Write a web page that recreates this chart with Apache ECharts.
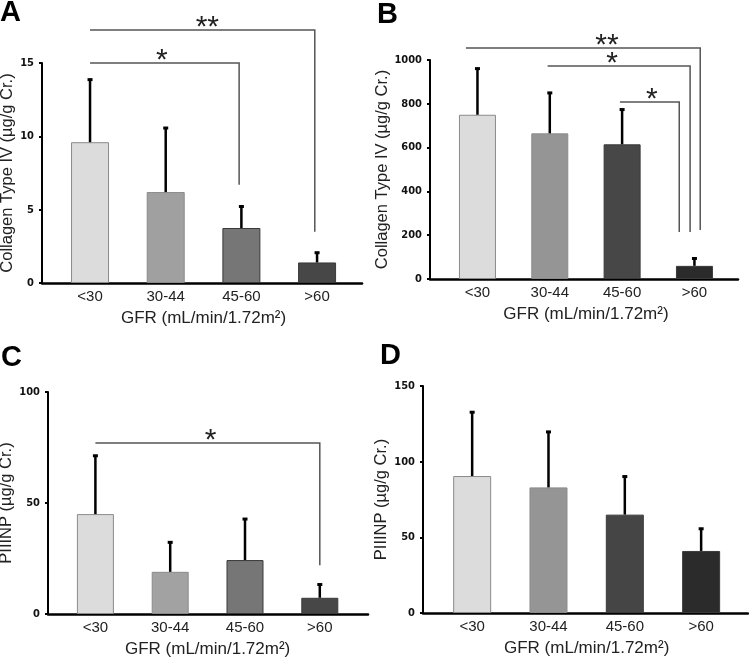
<!DOCTYPE html>
<html><head><meta charset="utf-8">
<script src="https://cdn.jsdelivr.net/npm/echarts@6/dist/echarts.min.js"></script>
<style>html,body{margin:0;padding:0;background:#fff}#c{width:749px;height:657px}</style>
</head><body><div id="c"></div>
<script>
const categories = ['<30', '30-44', '45-60', '>60'];
const xTitle = 'GFR (mL/min/1.72m\u00B2)';

const meanA = [9.6, 6.2, 3.75, 1.4];
const upperA = [13.9, 10.6, 5.25, 2.1];
const meanB = [750, 665, 615, 60];
const upperB = [963, 852, 776, 96];
const meanC = [45, 19, 24.3, 7.3];
const upperC = [71.5, 32.5, 43, 13.5];
const meanD = [90.5, 83, 65, 41];
const upperD = [133, 120, 90.5, 56];

// [from position, to position, level, drop-to value, label position, label]
const bracketsA = [[0, 1.97, 15, 6.7, 0.95, '*'], [0, 2.97, 17.25, 3.5, 1.55, '**']];
const bracketsB = [[-0.16, 3.08, 1055, 224, 1.79, '**'], [0.97, 2.94, 973, 215, 1.86, '*'], [1.97, 2.79, 808, 215, 2.41, '*']];
const bracketsC = [[0, 3.0, 77, 22, 1.54, '*']];
const bracketsD = [];

const panels = [
  {letter:'A', lx:0, ly:-2, mean:meanA, upper:upperA, br:bracketsA, max:15, interval:5, yName:'Collagen Type IV (\u00B5g/g Cr.)',
   left:52.2, width:302.7, top:63, bottom:283, axisX:42, lineEnd:362, nameGap:24, barWidth:38,
   colors:['#dcdcdc','#a0a0a0','#767676','#474747']},
  {letter:'B', lx:377, ly:0, mean:meanB, upper:upperB, br:bracketsB, max:1000, interval:200, yName:'Collagen Type IV (\u00B5g/g Cr.)',
   left:441.3, width:289.3, top:60, bottom:279, axisX:430, lineEnd:738, nameGap:37, barWidth:37,
   colors:['#dcdcdc','#959595','#474747','#2b2b2b']},
  {letter:'C', lx:1, ly:343, mean:meanC, upper:upperC, br:bracketsC, max:100, interval:50, yName:'PIIINP (\u00B5g/g Cr.)',
   left:58, width:299.2, top:392, bottom:614, axisX:48, lineEnd:368, nameGap:30, barWidth:37,
   colors:['#dcdcdc','#a2a2a2','#767676','#474747']},
  {letter:'D', lx:380, ly:341, mean:meanD, upper:upperD, br:bracketsD, max:150, interval:50, yName:'PIIINP (\u00B5g/g Cr.)',
   left:434, width:305.3, top:386, bottom:613, axisX:423, lineEnd:748, nameGap:30, barWidth:38,
   colors:['#dcdcdc','#959595','#454545','#2b2b2b']}
];

const H = 657;
const grid = [], xAxis = [], yAxis = [], series = [], graphic = [];
const tickFont = '"Liberation Sans Narrow","DejaVu Sans Condensed","Liberation Sans",sans-serif';
const mainFont = '"Liberation Sans",Arial,sans-serif';

panels.forEach((p, i) => {
  const g = i * 2;
  grid.push({left: p.left, width: p.width, top: p.top, bottom: H - p.bottom, containLabel: false, outerBoundsMode: 'none'});
  grid.push({left: p.axisX, width: p.lineEnd - p.axisX, top: p.top, bottom: H - p.bottom, containLabel: false, outerBoundsMode: 'none'});
  xAxis.push({
    type: 'category', gridIndex: g, data: categories,
    axisLine: {show: false}, axisTick: {show: false},
    axisLabel: {fontSize: 15, color: '#222', fontFamily: mainFont, margin: 6},
    name: xTitle, nameLocation: 'middle', nameGap: 27,
    nameTextStyle: {fontSize: 17, color: '#222', fontFamily: mainFont}
  });
  xAxis.push({
    type: 'value', gridIndex: g + 1, min: 0, max: 1, position: 'bottom',
    axisLine: {show: true, lineStyle: {color: '#000', width: 2.5}},
    axisTick: {show: false}, axisLabel: {show: false}, splitLine: {show: false}
  });
  yAxis.push({
    type: 'value', gridIndex: g, min: 0, max: p.max, interval: p.interval,
    offset: p.left - p.axisX,
    axisLine: {show: true, lineStyle: {color: '#000', width: 2}},
    axisTick: {show: true, length: 3, inside: false, lineStyle: {color: '#000', width: 2}},
    axisLabel: {fontSize: 11, fontWeight: 'bold', color: '#111', fontFamily: tickFont, margin: 8,
                formatter: v => String(v)},
    splitLine: {show: false},
    name: p.yName, nameLocation: 'middle', nameGap: p.nameGap,
    nameTextStyle: {fontSize: 16.5, color: '#222', fontFamily: mainFont}
  });
  yAxis.push({type: 'value', gridIndex: g + 1, min: 0, max: 1, show: false});

  series.push({
    type: 'bar', xAxisIndex: g, yAxisIndex: g, barWidth: p.barWidth,
    data: p.mean.map((v, k) => ({value: v, itemStyle: {color: p.colors[k], borderColor: k < 2 ? '#8a8a8a' : '#3a3a3a', borderWidth: 1}})),
    silent: true, animation: false
  });
  series.push({
    type: 'custom', xAxisIndex: g, yAxisIndex: g, z: 5, animation: false, silent: true, clip: false,
    data: p.mean.map((v, k) => [k, v, p.upper[k]]),
    renderItem: function (params, api) {
      const x = api.value(0);
      const a = api.coord([x, api.value(1)]);
      const b = api.coord([x, api.value(2)]);
      return {type: 'group', children: [
        {type: 'line', shape: {x1: a[0], y1: a[1], x2: b[0], y2: b[1]}, style: {stroke: '#000', lineWidth: 2.5}},
        {type: 'rect', shape: {x: b[0] - 2.5, y: b[1] - 1, width: 5, height: 3}, style: {fill: '#000'}}
      ]};
    }
  });
  if (p.br.length) {
    const br = p.br;
    series.push({
      type: 'custom', xAxisIndex: g, yAxisIndex: g, z: 6, animation: false, silent: true, clip: false,
      data: br.map(b => [0, b[2]]),
      renderItem: function (params, api) {
        const b = br[params.dataIndex];
        const o = api.coord([0, b[2]]);
        const d = api.coord([0, b[3]]);
        const bw = api.size([1, 0])[0];
        const x1 = o[0] + b[0] * bw, x2 = o[0] + b[1] * bw, xl = o[0] + b[4] * bw;
        return {type: 'group', children: [
          {type: 'polyline', shape: {points: [[x1, o[1]], [x2, o[1]], [x2, d[1]]]}, style: {stroke: '#555', lineWidth: 1.5, fill: null}},
          {type: 'text', style: {text: b[5], x: xl, y: o[1] + 13, align: 'center', verticalAlign: 'bottom', font: '30px "Liberation Sans"', fill: '#222'}}
        ]};
      }
    });
  }
  graphic.push({type: 'text', left: p.lx, top: p.ly, style: {text: p.letter, font: 'bold 29px "Liberation Sans"', fill: '#000'}});
});

const chart = echarts.init(document.getElementById('c'), null, {renderer: 'canvas'});
chart.setOption({animation: false, backgroundColor: '#fff', grid, xAxis, yAxis, series, graphic});
</script></body></html>
